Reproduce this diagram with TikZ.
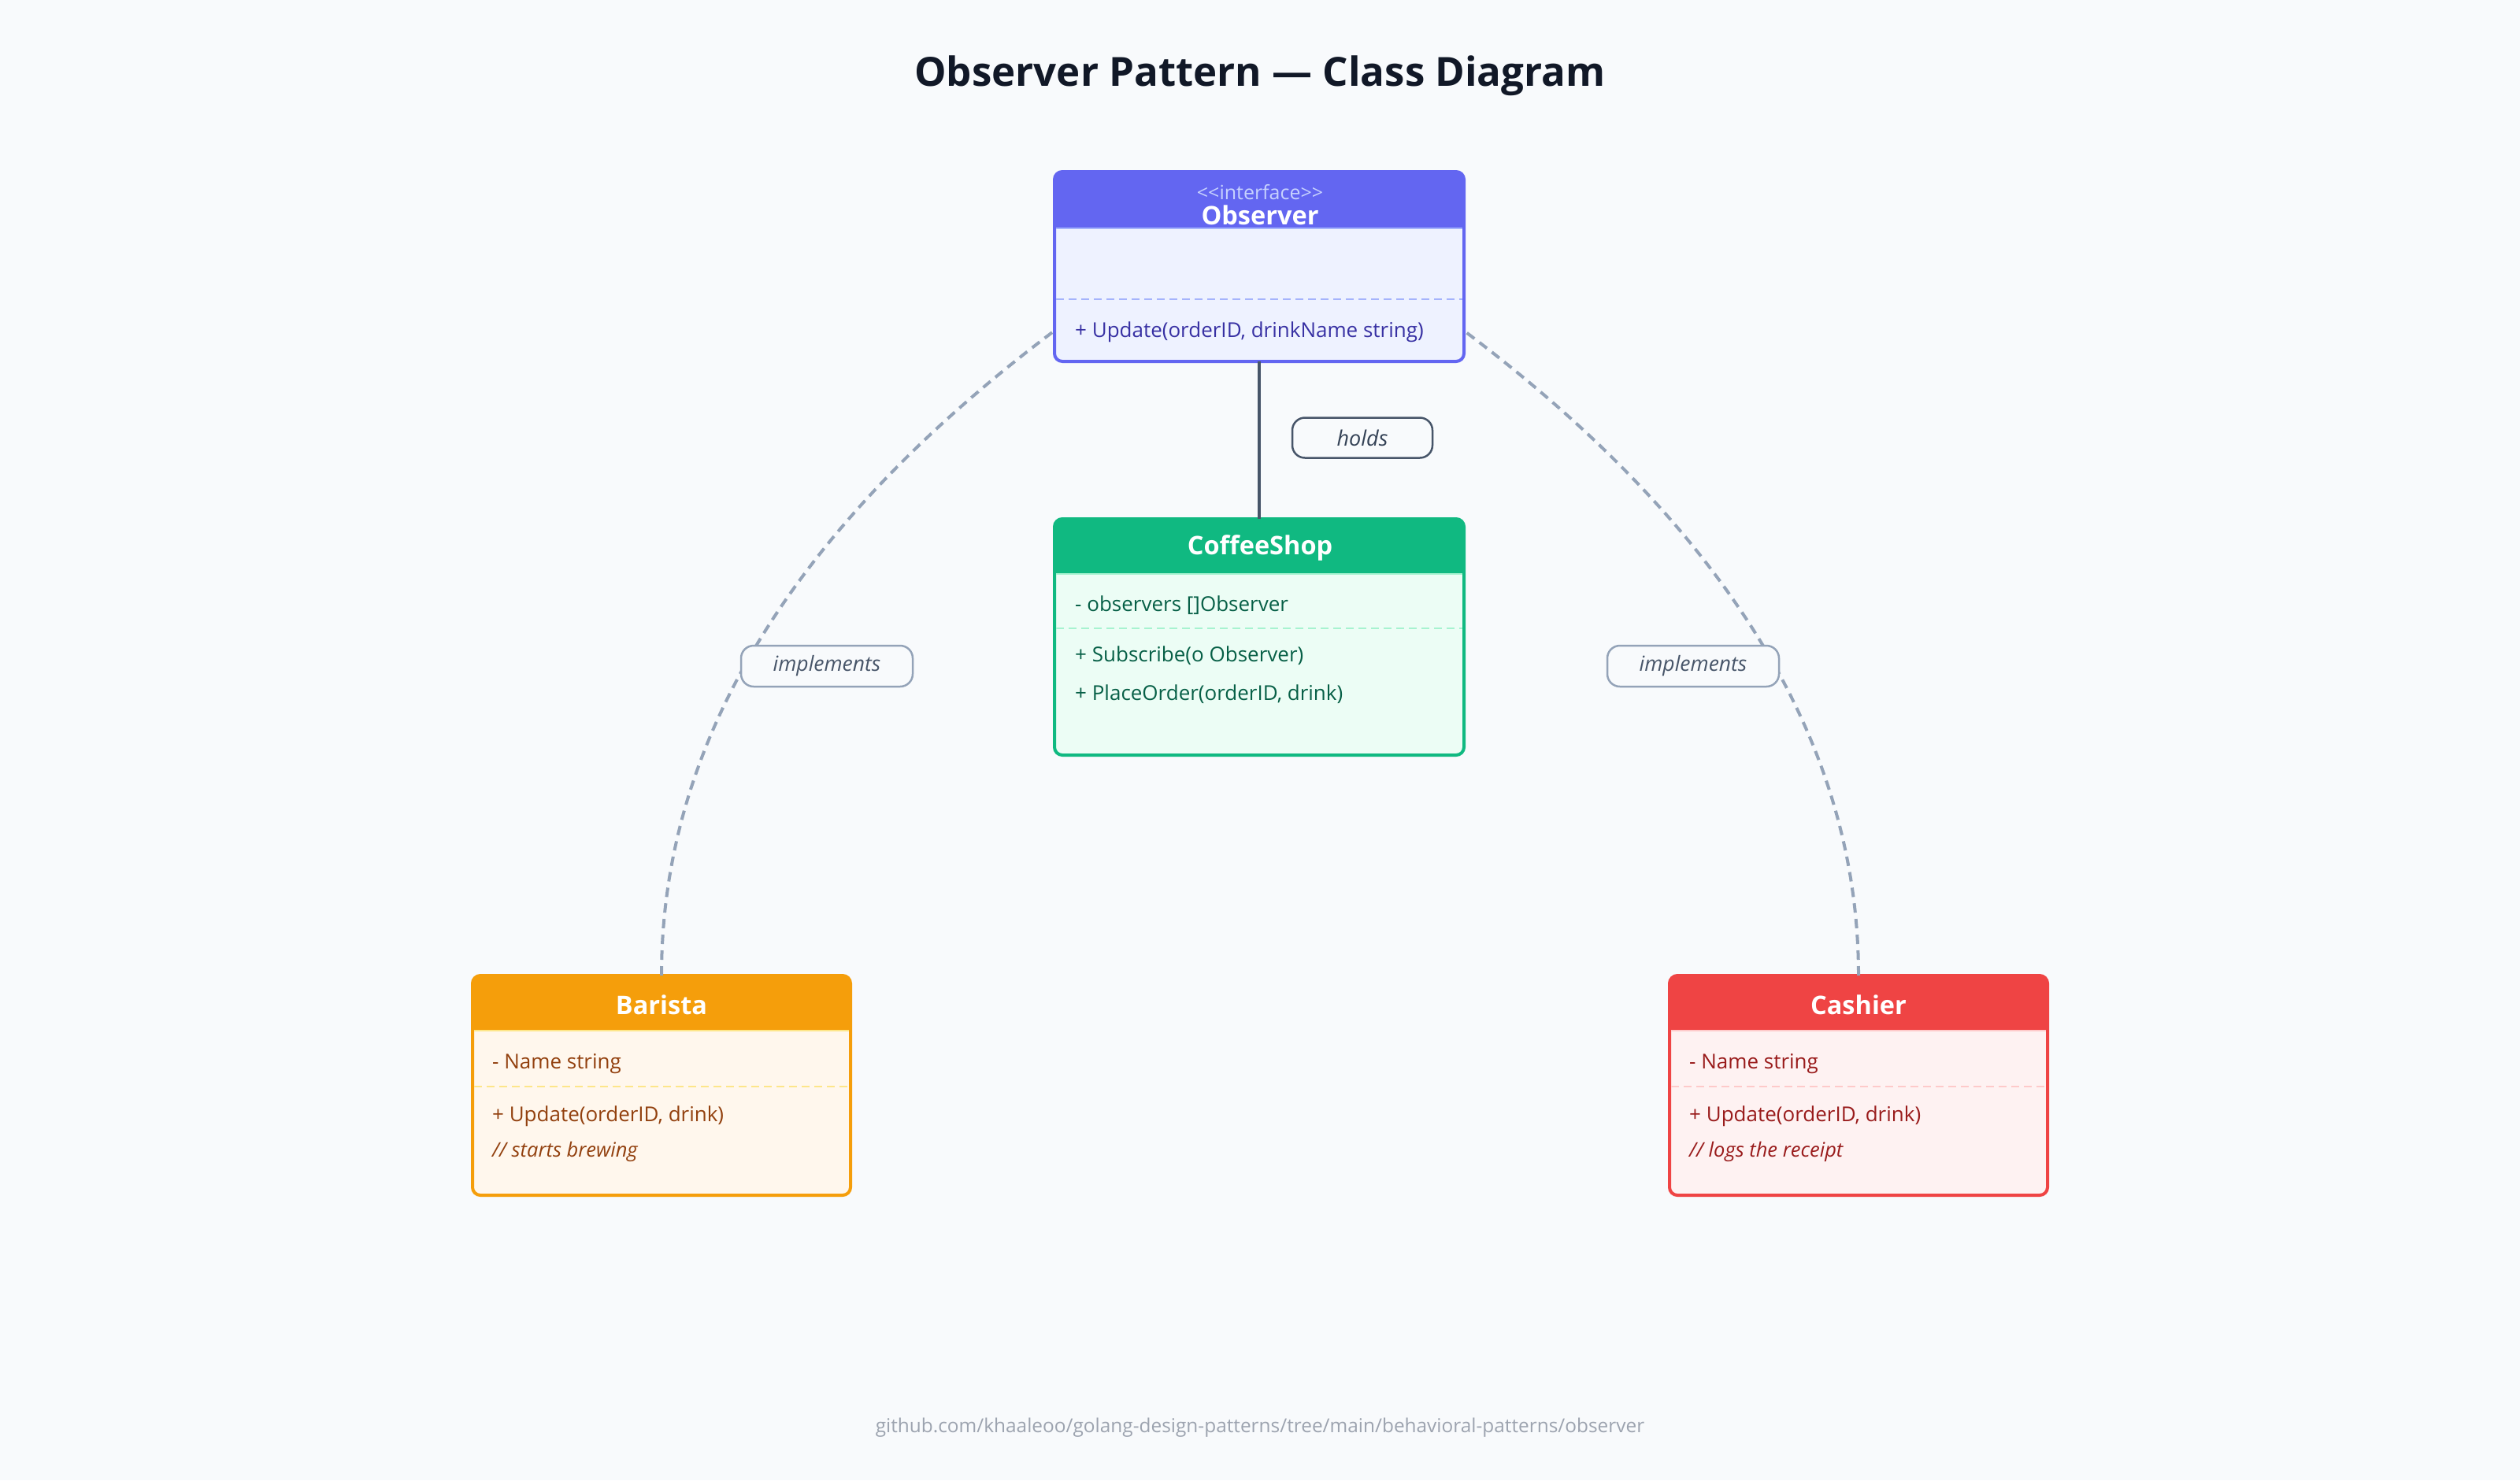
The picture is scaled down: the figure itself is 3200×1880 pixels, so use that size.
\documentclass[tikz,border=0pt]{standalone}
\usepackage{fontspec}
\setmainfont{Open Sans}
\usetikzlibrary{calc}
\definecolor{bgc}{HTML}{F8FAFC}
\definecolor{titlec}{HTML}{111827}
\definecolor{footc}{HTML}{9CA3AF}
\definecolor{obsB}{HTML}{6366F1}
\definecolor{obsF}{HTML}{EEF2FF}
\definecolor{obsT}{HTML}{3730A3}
\definecolor{obsD}{HTML}{A5B4FC}
\definecolor{obsS}{HTML}{C7D2FE}
\definecolor{shopB}{HTML}{10B981}
\definecolor{shopF}{HTML}{ECFDF5}
\definecolor{shopT}{HTML}{065F46}
\definecolor{shopD}{HTML}{A7F3D0}
\definecolor{barB}{HTML}{F59E0B}
\definecolor{barF}{HTML}{FFF7ED}
\definecolor{barT}{HTML}{92400E}
\definecolor{barD}{HTML}{FDE68A}
\definecolor{casB}{HTML}{EF4444}
\definecolor{casF}{HTML}{FEF2F2}
\definecolor{casT}{HTML}{991B1B}
\definecolor{casD}{HTML}{FECACA}
\definecolor{holdC}{HTML}{475569}
\definecolor{holdT}{HTML}{334155}
\definecolor{implC}{HTML}{94A3B8}
\definecolor{implT}{HTML}{475569}
\tikzset{
  classbox/.style={draw, line width=4pt, rounded corners=10pt, inner sep=0pt, outer sep=0pt, anchor=north west},
  memtext/.style={inner sep=0pt, anchor=west, font={\fontsize{26pt}{31pt}\selectfont}},
  cmttext/.style={inner sep=0pt, anchor=west, font={\fontsize{25.5pt}{30pt}\selectfont\itshape}},
  headtext/.style={inner sep=0pt, text=white, font={\fontsize{32.5pt}{38pt}\selectfont\bfseries}},
  divline/.style={line width=2pt, dash pattern=on 10pt off 6pt},
  headline/.style={line width=2pt},
  edgelabel/.style={draw, line width=2.5pt, rounded corners=16pt, fill=bgc, inner sep=0pt, font={\fontsize{26.5pt}{31pt}\selectfont\itshape}},
  implline/.style={draw=implC, line width=4pt, dash pattern=on 12pt off 8pt},
  holdline/.style={draw=holdC, line width=4pt}
}
\begin{document}
\begin{tikzpicture}[x=1pt,y=-1pt]
\useasboundingbox[fill=bgc] (0,0) rectangle (3200,1880);

\node[font={\fontsize{51pt}{60pt}\selectfont\bfseries}, text=titlec, inner sep=0pt] (title) at (1600,96) {Observer Pattern — Class Diagram};

% Observer
\node[classbox, draw=obsB, fill=obsF, minimum width=520pt, minimum height=241pt] (obs) at (1339,218) {};
\begin{scope}
\clip[rounded corners=10pt] (obs.north west) rectangle (obs.south east);
\fill[obsB] (obs.north west) rectangle ([yshift=-72pt]obs.north east);
\end{scope}
\draw[headline, obsD] ([yshift=-72pt,xshift=2pt]obs.north west) -- ([yshift=-72pt,xshift=-2pt]obs.north east);
\draw[divline, obsD] ([xshift=2pt]obs.west |- 0,380) -- ([xshift=-2pt]obs.east |- 0,380);
\node[inner sep=0pt, text=obsS, font={\fontsize{25pt}{29pt}\selectfont}] (obsst) at (1600,244) {<\kern0pt<interface>\kern0pt>};
\node[headtext] (obsname) at (1600,273) {Observer};
\node[memtext, text=obsT] (obsm1) at (1365,422) {+ Update(orderID, drinkName string)};

% CoffeeShop
\node[classbox, draw=shopB, fill=shopF, minimum width=520pt, minimum height=300pt] (shop) at (1339,659) {};
\begin{scope}
\clip[rounded corners=10pt] (shop.north west) rectangle (shop.south east);
\fill[shopB] (shop.north west) rectangle ([yshift=-70pt]shop.north east);
\end{scope}
\draw[headline, shopD] ([yshift=-70pt,xshift=2pt]shop.north west) -- ([yshift=-70pt,xshift=-2pt]shop.north east);
\draw[divline, shopD] ([xshift=2pt]shop.west |- 0,798) -- ([xshift=-2pt]shop.east |- 0,798);
\node[headtext] (shopname) at (1600,696) {CoffeeShop};
\node[memtext, text=shopT] (shopa1) at (1365,769) {- observers []Observer};
\node[memtext, text=shopT] (shopm1) at (1365,833) {+ Subscribe(o Observer)};
\node[memtext, text=shopT] (shopm2) at (1365,882) {+ PlaceOrder(orderID, drink)};

% Barista
\node[classbox, draw=barB, fill=barF, minimum width=480pt, minimum height=279pt] (bar) at (600,1239) {};
\begin{scope}
\clip[rounded corners=10pt] (bar.north west) rectangle (bar.south east);
\fill[barB] (bar.north west) rectangle ([yshift=-70pt]bar.north east);
\end{scope}
\draw[headline, barD] ([yshift=-70pt,xshift=2pt]bar.north west) -- ([yshift=-70pt,xshift=-2pt]bar.north east);
\draw[divline, barD] ([xshift=2pt]bar.west |- 0,1380) -- ([xshift=-2pt]bar.east |- 0,1380);
\node[headtext] (barname) at (840,1276) {Barista};
\node[memtext, text=barT] (bara1) at (625,1351) {- Name string};
\node[memtext, text=barT] (barm1) at (625,1418) {+ Update(orderID, drink)};
\node[cmttext, text=barT] (barc1) at (625,1463) {// starts brewing};

% Cashier
\node[classbox, draw=casB, fill=casF, minimum width=480pt, minimum height=279pt] (cas) at (2120,1239) {};
\begin{scope}
\clip[rounded corners=10pt] (cas.north west) rectangle (cas.south east);
\fill[casB] (cas.north west) rectangle ([yshift=-70pt]cas.north east);
\end{scope}
\draw[headline, casD] ([yshift=-70pt,xshift=2pt]cas.north west) -- ([yshift=-70pt,xshift=-2pt]cas.north east);
\draw[divline, casD] ([xshift=2pt]cas.west |- 0,1380) -- ([xshift=-2pt]cas.east |- 0,1380);
\node[headtext] (casname) at (2360,1276) {Cashier};
\node[memtext, text=casT] (casa1) at (2145,1351) {- Name string};
\node[memtext, text=casT] (casm1) at (2145,1418) {+ Update(orderID, drink)};
\node[cmttext, text=casT] (casc1) at (2145,1463) {// logs the receipt};

% connectors
\draw[holdline] (obs.south) -- (shop.north);
\draw[implline] (bar.north) .. controls +(0,-297) and +(-331,249) .. (obs.west |- 0,420);
\draw[implline] (cas.north) .. controls +(0,-297) and +(331,249) .. (obs.east |- 0,420);

% labels
\node[edgelabel, draw=holdC, text=holdT, minimum width=178pt, minimum height=51pt, font={\fontsize{27pt}{32pt}\selectfont\itshape}] (holds) at (1730,556) {holds};
\node[edgelabel, draw=implC, text=implT, minimum width=218pt, minimum height=52pt] (impl1) at (1050,846) {implements};
\node[edgelabel, draw=implC, text=implT, minimum width=218pt, minimum height=52pt] (impl2) at (2150,846) {implements};

\node[inner sep=0pt, text=footc, font={\fontsize{24.4pt}{29pt}\selectfont}] (foot) at (1600,1813) {github.com/khaaleoo/golang-design-patterns/tree/main/behavioral-patterns/observer};
\end{tikzpicture}
\end{document}
